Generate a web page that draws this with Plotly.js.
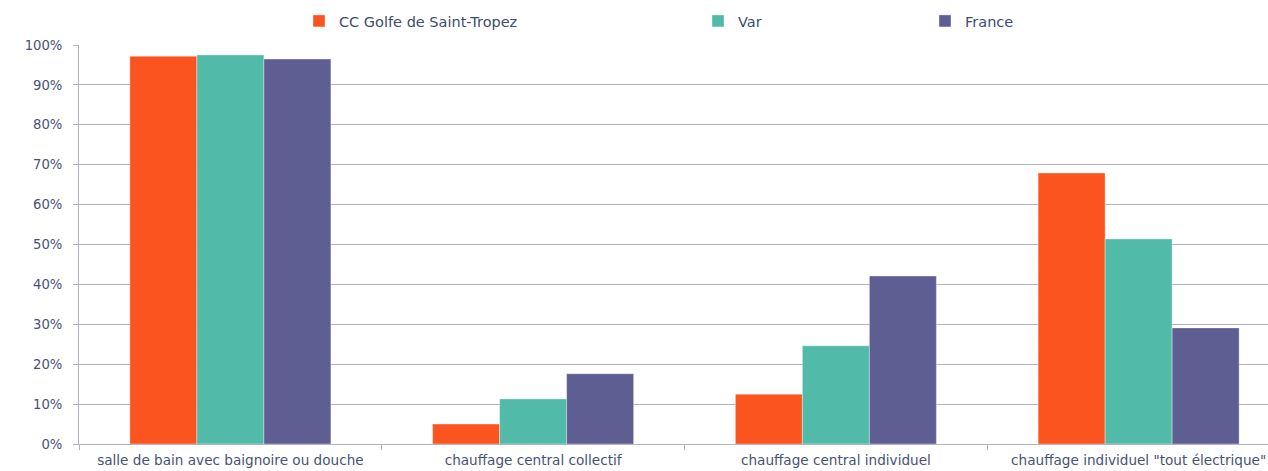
<!DOCTYPE html>
<html>
<head>
<meta charset="utf-8">
<script src="https://cdn.plot.ly/plotly-3.0.1.min.js"></script>
<style>
html,body{margin:0;padding:0;overflow:hidden;background:#fff;}
#chart{width:1300px;height:471px;}
</style>
</head>
<body>
<div id="chart"></div>
<script>
const categories = ["salle de bain avec baignoire ou douche", "chauffage central collectif", "chauffage central individuel", "chauffage individuel \"tout électrique\""];
const seriesNames = ["CC Golfe de Saint-Tropez", "Var", "France"];
const ccValues = [0.972, 0.050, 0.125, 0.679];
const varValues = [0.975, 0.113, 0.246, 0.514];
const franceValues = [0.965, 0.176, 0.421, 0.291];
const colors = ["#FC541E", "#52BAA8", "#5E5E92"];

const allValues = [ccValues, varValues, franceValues];
const legendIds = ["legend", "legend2", "legend3"];
const traces = allValues.map((vals, i) => ({
  type: "bar",
  name: seriesNames[i],
  x: categories,
  y: vals,
  marker: {color: colors[i], line: {color: "rgba(255,255,255,0.6)", width: 0.6}},
  legend: legendIds[i],
  hoverinfo: "x+y+name"
}));

const txtColor = "#455276";
const gridColor = "#B2B2C2";
const W = 1300, H = 471;
function legendAt(px) {
  return {
    orientation: "h", xref: "container", yref: "container",
    x: px / W, y: 1 - 21 / H, xanchor: "left", yanchor: "middle",
    font: {family: "DejaVu Sans", size: 14.5, color: "#3E4B70"},
    bgcolor: "rgba(0,0,0,0)", itemwidth: 30
  };
}

const layout = {
  width: W, height: H,
  margin: {l: 79, r: 10, t: 45, b: 27},
  paper_bgcolor: "#fff", plot_bgcolor: "#fff",
  font: {family: "DejaVu Sans", size: 13, color: txtColor},
  barmode: "group", bargap: 0.336, bargroupgap: 0,
  showlegend: true,
  legend: legendAt(299),
  legend2: legendAt(698),
  legend3: legendAt(925),
  xaxis: {
    type: "category",
    tickson: "boundaries",
    ticks: "outside", ticklen: 5, tickcolor: gridColor, tickwidth: 1,
    showline: true, linecolor: gridColor, linewidth: 1,
    showgrid: false, zeroline: false,
    tickfont: {family: "DejaVu Sans", size: 13.6, color: txtColor},
    ticklabelstandoff: 4,
    fixedrange: true
  },
  yaxis: {
    range: [0, 1], tickformat: ".0%", dtick: 0.1,
    ticks: "outside", ticklen: 5, tickcolor: gridColor, tickwidth: 1,
    showline: true, linecolor: gridColor, linewidth: 1,
    showgrid: true, gridcolor: gridColor, gridwidth: 1,
    zeroline: false,
    tickfont: {family: "DejaVu Sans", size: 13.2, color: txtColor},
    ticklabelstandoff: 8,
    fixedrange: true
  }
};

Plotly.newPlot("chart", traces, layout, {displayModeBar: false, responsive: false});
</script>
</body>
</html>
